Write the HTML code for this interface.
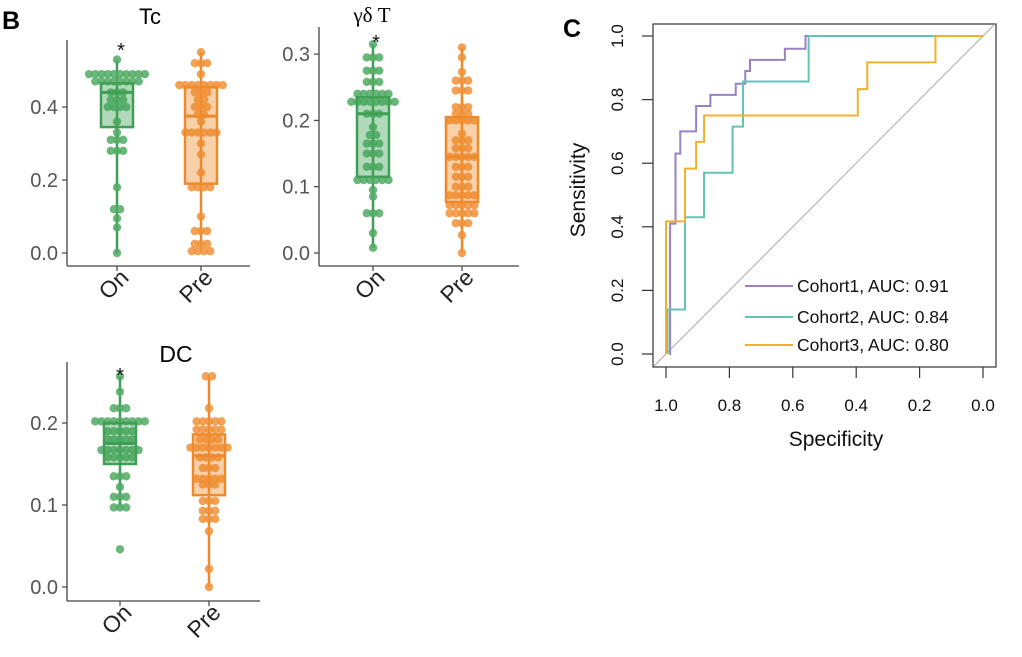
<!DOCTYPE html>
<html><head><meta charset="utf-8">
<style>
html,body{margin:0;padding:0;background:#fff;}
svg{display:block;font-family:"Liberation Sans",Arial,sans-serif;}
</style></head>
<body>
<svg id="fig" width="1022" height="657" viewBox="0 0 1022 657" xmlns="http://www.w3.org/2000/svg">
<text x="2" y="29" font-size="25" font-weight="bold">B</text>
<text x="563" y="37" font-size="25" font-weight="bold">C</text>
<text x="150" y="24" font-size="22" text-anchor="middle">Tc</text>
<text x="372" y="22" font-size="21" text-anchor="middle" font-family="Liberation Serif,serif">γδ T</text>
<text x="176" y="362" font-size="23" text-anchor="middle">DC</text>
<g id="plots"></g>
</svg>
<script>
// ---- Boxplot data ----
const groups = ["On", "Pre"];
const tcOn = [0.53,0.49,0.49,0.49,0.49,0.49,0.49,0.49,0.49,0.49,0.49,0.47,0.47,0.47,0.47,0.47,0.47,0.47,0.47,0.44,0.44,0.44,0.42,0.42,0.42,0.40,0.40,0.40,0.40,0.36,0.33,0.31,0.31,0.31,0.28,0.28,0.28,0.18,0.12,0.12,0.095,0.07,0.0];
const tcPre = [0.55,0.52,0.52,0.52,0.49,0.46,0.46,0.46,0.46,0.46,0.46,0.46,0.46,0.44,0.44,0.44,0.42,0.42,0.40,0.40,0.40,0.38,0.38,0.36,0.33,0.33,0.33,0.33,0.33,0.33,0.30,0.27,0.22,0.18,0.18,0.18,0.18,0.10,0.06,0.06,0.06,0.025,0.025,0.025,0.005,0.005,0.005,0.005];
const gdOn = [0.315,0.295,0.295,0.295,0.275,0.275,0.275,0.258,0.258,0.258,0.24,0.24,0.24,0.24,0.24,0.24,0.228,0.228,0.228,0.228,0.228,0.228,0.228,0.228,0.21,0.21,0.21,0.19,0.178,0.178,0.165,0.165,0.165,0.15,0.15,0.15,0.13,0.13,0.13,0.11,0.11,0.11,0.11,0.11,0.11,0.095,0.085,0.06,0.06,0.06,0.03,0.008];
const gdPre = [0.31,0.295,0.273,0.26,0.26,0.26,0.245,0.245,0.245,0.22,0.22,0.22,0.21,0.21,0.21,0.2,0.2,0.2,0.2,0.2,0.18,0.17,0.17,0.17,0.158,0.158,0.158,0.145,0.145,0.145,0.145,0.145,0.13,0.13,0.13,0.115,0.115,0.115,0.1,0.1,0.1,0.087,0.087,0.087,0.087,0.087,0.072,0.072,0.072,0.072,0.072,0.06,0.06,0.06,0.06,0.06,0.045,0.045,0.045,0.027,0.0];
const dcOn = [0.257,0.238,0.218,0.218,0.218,0.202,0.202,0.202,0.202,0.202,0.202,0.202,0.202,0.202,0.19,0.19,0.19,0.19,0.19,0.18,0.18,0.18,0.18,0.18,0.167,0.167,0.167,0.167,0.167,0.167,0.167,0.158,0.158,0.158,0.158,0.158,0.135,0.135,0.135,0.122,0.11,0.11,0.11,0.097,0.097,0.097,0.046];
const dcPre = [0.257,0.257,0.218,0.202,0.202,0.202,0.202,0.202,0.192,0.192,0.192,0.192,0.192,0.18,0.18,0.18,0.18,0.17,0.17,0.17,0.17,0.17,0.17,0.17,0.158,0.158,0.158,0.158,0.145,0.145,0.145,0.132,0.132,0.132,0.132,0.132,0.125,0.125,0.125,0.105,0.105,0.105,0.093,0.093,0.093,0.083,0.083,0.083,0.068,0.022,0.0];
// box stats: [lowWhisker, q1, median, q3, highWhisker]
const tcOnBox = [0.0, 0.345, 0.44, 0.465, 0.53];
const tcPreBox = [0.005, 0.19, 0.375, 0.455, 0.55];
const gdOnBox = [0.008, 0.115, 0.21, 0.235, 0.315];
const gdPreBox = [0.0, 0.077, 0.145, 0.205, 0.31];
const dcOnBox = [0.097, 0.15, 0.175, 0.2, 0.257];
const dcPreBox = [0.0, 0.112, 0.16, 0.186, 0.257];
const tcTicks = [0.0, 0.2, 0.4];
const gdTicks = [0.0, 0.1, 0.2, 0.3];
const dcTicks = [0.0, 0.1, 0.2];

// ---- ROC data (specificity, sensitivity) ----
const roc1Spec = [0.99,0.987,0.987,0.97,0.97,0.955,0.955,0.905,0.905,0.86,0.86,0.78,0.78,0.75,0.75,0.735,0.735,0.625,0.625,0.56,0.56,0.0];
const roc1Sens = [0,0,0.41,0.41,0.63,0.63,0.70,0.70,0.78,0.78,0.815,0.815,0.85,0.85,0.89,0.89,0.925,0.925,0.96,0.96,1,1];
const roc2Spec = [0.995,0.995,0.94,0.94,0.88,0.88,0.79,0.79,0.757,0.757,0.55,0.55,0.0];
const roc2Sens = [0,0.14,0.14,0.43,0.43,0.57,0.57,0.715,0.715,0.857,0.857,1,1];
const roc3Spec = [1.0,1.0,0.94,0.94,0.905,0.905,0.88,0.88,0.395,0.395,0.365,0.365,0.15,0.15,0.0];
const roc3Sens = [0,0.417,0.417,0.583,0.583,0.667,0.667,0.75,0.75,0.833,0.833,0.917,0.917,1,1];
const rocLabels = ["Cohort1, AUC: 0.91","Cohort2, AUC: 0.84","Cohort3, AUC: 0.80"];
const rocTicks = [1.0,0.8,0.6,0.4,0.2,0.0];

const NS = "http://www.w3.org/2000/svg";
const root = document.getElementById("plots");
function mk(tag, attrs, parent) {
  const e = document.createElementNS(NS, tag);
  for (const k in attrs) e.setAttribute(k, attrs[k]);
  (parent || root).appendChild(e);
  return e;
}
const GREEN = "#3f9f55", ORANGE = "#ee8a2a";

function panel(cfg) {
  const g = mk("g", {});
  
  
  const y = v => cfg.y0 - v * cfg.k;
  const ax = mk("line", {x1: cfg.ax, y1: cfg.top, x2: cfg.ax, y2: cfg.bottom, stroke: "#444", "stroke-width": 1.3}, g);
  
  
  const bx = mk("line", {x1: cfg.ax, y1: cfg.bottom, x2: cfg.right, y2: cfg.bottom, stroke: "#444", "stroke-width": 1.3}, g);
  
  
  cfg.ticks.forEach(t => {
    const tl = mk("line", {x1: cfg.ax - 5, y1: y(t), x2: cfg.ax, y2: y(t), stroke: "#444", "stroke-width": 1.2}, g);
    
    
    const tx = mk("text", {x: cfg.ax - 9, y: y(t) + 7, "font-size": 20, fill: "#555", "text-anchor": "end"}, g);
    
    
    tx.textContent = t.toFixed(1);
  });
  const sets = [[cfg.on, cfg.onBox, GREEN, "rgba(63,159,85,0.4)", "rgba(80,170,100,0.85)"],
                [cfg.pre, cfg.preBox, ORANGE, "rgba(238,138,42,0.4)", "rgba(240,145,55,0.85)"]];
  sets.forEach((s, gi) => {
    const cx = cfg.xs[gi];
    const [vals, box, col, fill, dotc] = s;
    const wl = mk("line", {x1: cx, y1: y(box[0]), x2: cx, y2: y(box[4]), stroke: col, "stroke-width": 2.5}, g);
    
    
    const counts = {};
    vals.forEach(v => { counts[v] = (counts[v] || 0) + 1; });
    Object.keys(counts).forEach(k => {
      const n = counts[k], v = parseFloat(k);
      for (let i = 0; i < n; i++) {
        const c = mk("circle", {cx: cx + (i - (n - 1) / 2) * 6.2, cy: y(v), r: 4.2, fill: dotc}, g);
        
        
      }
    });
    const r = mk("rect", {x: cx - 16, y: y(box[3]), width: 32, height: y(box[1]) - y(box[3]), fill: fill, stroke: col, "stroke-width": 2.5}, g);
    
    
    const md = mk("line", {x1: cx - 16, y1: y(box[2]), x2: cx + 16, y2: y(box[2]), stroke: col, "stroke-width": 3}, g);
    
    
    const xt = mk("line", {x1: cx, y1: cfg.bottom, x2: cx, y2: cfg.bottom + 5, stroke: "#444", "stroke-width": 1.2}, g);
    
    
    const lx = cx + 13, lyy = cfg.bottom + 13;
    const lbl = mk("text", {x: lx, y: lyy, "font-size": 23, fill: "#222", "text-anchor": "end", transform: "rotate(-45 " + lx + " " + lyy + ")"}, g);
    
    
    lbl.textContent = groups[gi];
  });
  const st = mk("text", {x: cfg.star[0], y: cfg.star[1], "font-size": 20, "text-anchor": "middle", fill: "#111"}, g);
  
  
  st.textContent = "*";
}

panel({name: "tc", ax: 67, top: 40, bottom: 266, right: 250, y0: 253, k: 365, xs: [117, 201], ticks: tcTicks, on: tcOn, pre: tcPre, onBox: tcOnBox, preBox: tcPreBox, star: [121, 57]});
panel({name: "gdt", ax: 319, top: 27, bottom: 266, right: 519, y0: 253, k: 663, xs: [373, 462], ticks: gdTicks, on: gdOn, pre: gdPre, onBox: gdOnBox, preBox: gdPreBox, star: [376, 49]});
panel({name: "dc", ax: 67, top: 362, bottom: 601, right: 260, y0: 587, k: 820, xs: [120, 209], ticks: dcTicks, on: dcOn, pre: dcPre, onBox: dcOnBox, preBox: dcPreBox, star: [120, 382]});

// ---- ROC ----
(function () {
  const g = mk("g", {});
  
  
  const X = s => 666 + (1 - s) * 317;
  const Y = v => 354 - v * 318;
  const frame = mk("rect", {x: 653, y: 24, width: 343, height: 343, fill: "none", stroke: "#333", "stroke-width": 1.2}, g);
  
  
  const diag = mk("line", {x1: X(1) - 12, y1: Y(0) + 12, x2: X(0) + 12, y2: Y(1) - 12, stroke: "#aaa", "stroke-width": 1}, g);
  
  
  rocTicks.forEach(t => {
    const tl = mk("line", {x1: X(t), y1: 367, x2: X(t), y2: 378, stroke: "#333", "stroke-width": 1.2}, g);
    
    
    const tx = mk("text", {x: X(t), y: 411, "font-size": 17, "text-anchor": "middle", fill: "#111"}, g);
    
    
    tx.textContent = t.toFixed(1);
    const yl = mk("line", {x1: 642, y1: Y(t), x2: 653, y2: Y(t), stroke: "#333", "stroke-width": 1.2}, g);
    
    
    const ty = mk("text", {x: 623, y: Y(t), "font-size": 17, "text-anchor": "middle", fill: "#111", transform: "rotate(-90 623 " + Y(t) + ")"}, g);
    
    
    ty.textContent = t.toFixed(1);
  });
  const xt = mk("text", {x: 836, y: 446, "font-size": 21, "text-anchor": "middle", fill: "#111"}, g);
  
  
  xt.textContent = "Specificity";
  const yt = mk("text", {x: 585, y: 190, "font-size": 21, "text-anchor": "middle", fill: "#111", transform: "rotate(-90 585 190)"}, g);
  
  
  yt.textContent = "Sensitivity";
  const series = [[roc1Spec, roc1Sens, "#9a80c6"], [roc2Spec, roc2Sens, "#62c3b6"], [roc3Spec, roc3Sens, "#f0b22a"]];
  series.forEach((s, i) => {
    const pts = s[0].map((sp, j) => X(sp) + "," + Y(s[1][j])).join(" ");
    const pl = mk("polyline", {points: pts, fill: "none", stroke: s[2], "stroke-width": 2}, g);
    
    
  });
  const ly = [286, 317, 345];
  series.forEach((s, i) => {
    const l = mk("line", {x1: 745, y1: ly[i], x2: 793, y2: ly[i], stroke: s[2], "stroke-width": 2}, g);
    
    
    const t = mk("text", {x: 797, y: ly[i] + 6, "font-size": 17.5, fill: "#111"}, g);
    
    
    t.textContent = rocLabels[i];
  });
})();
</script>
</body></html>
